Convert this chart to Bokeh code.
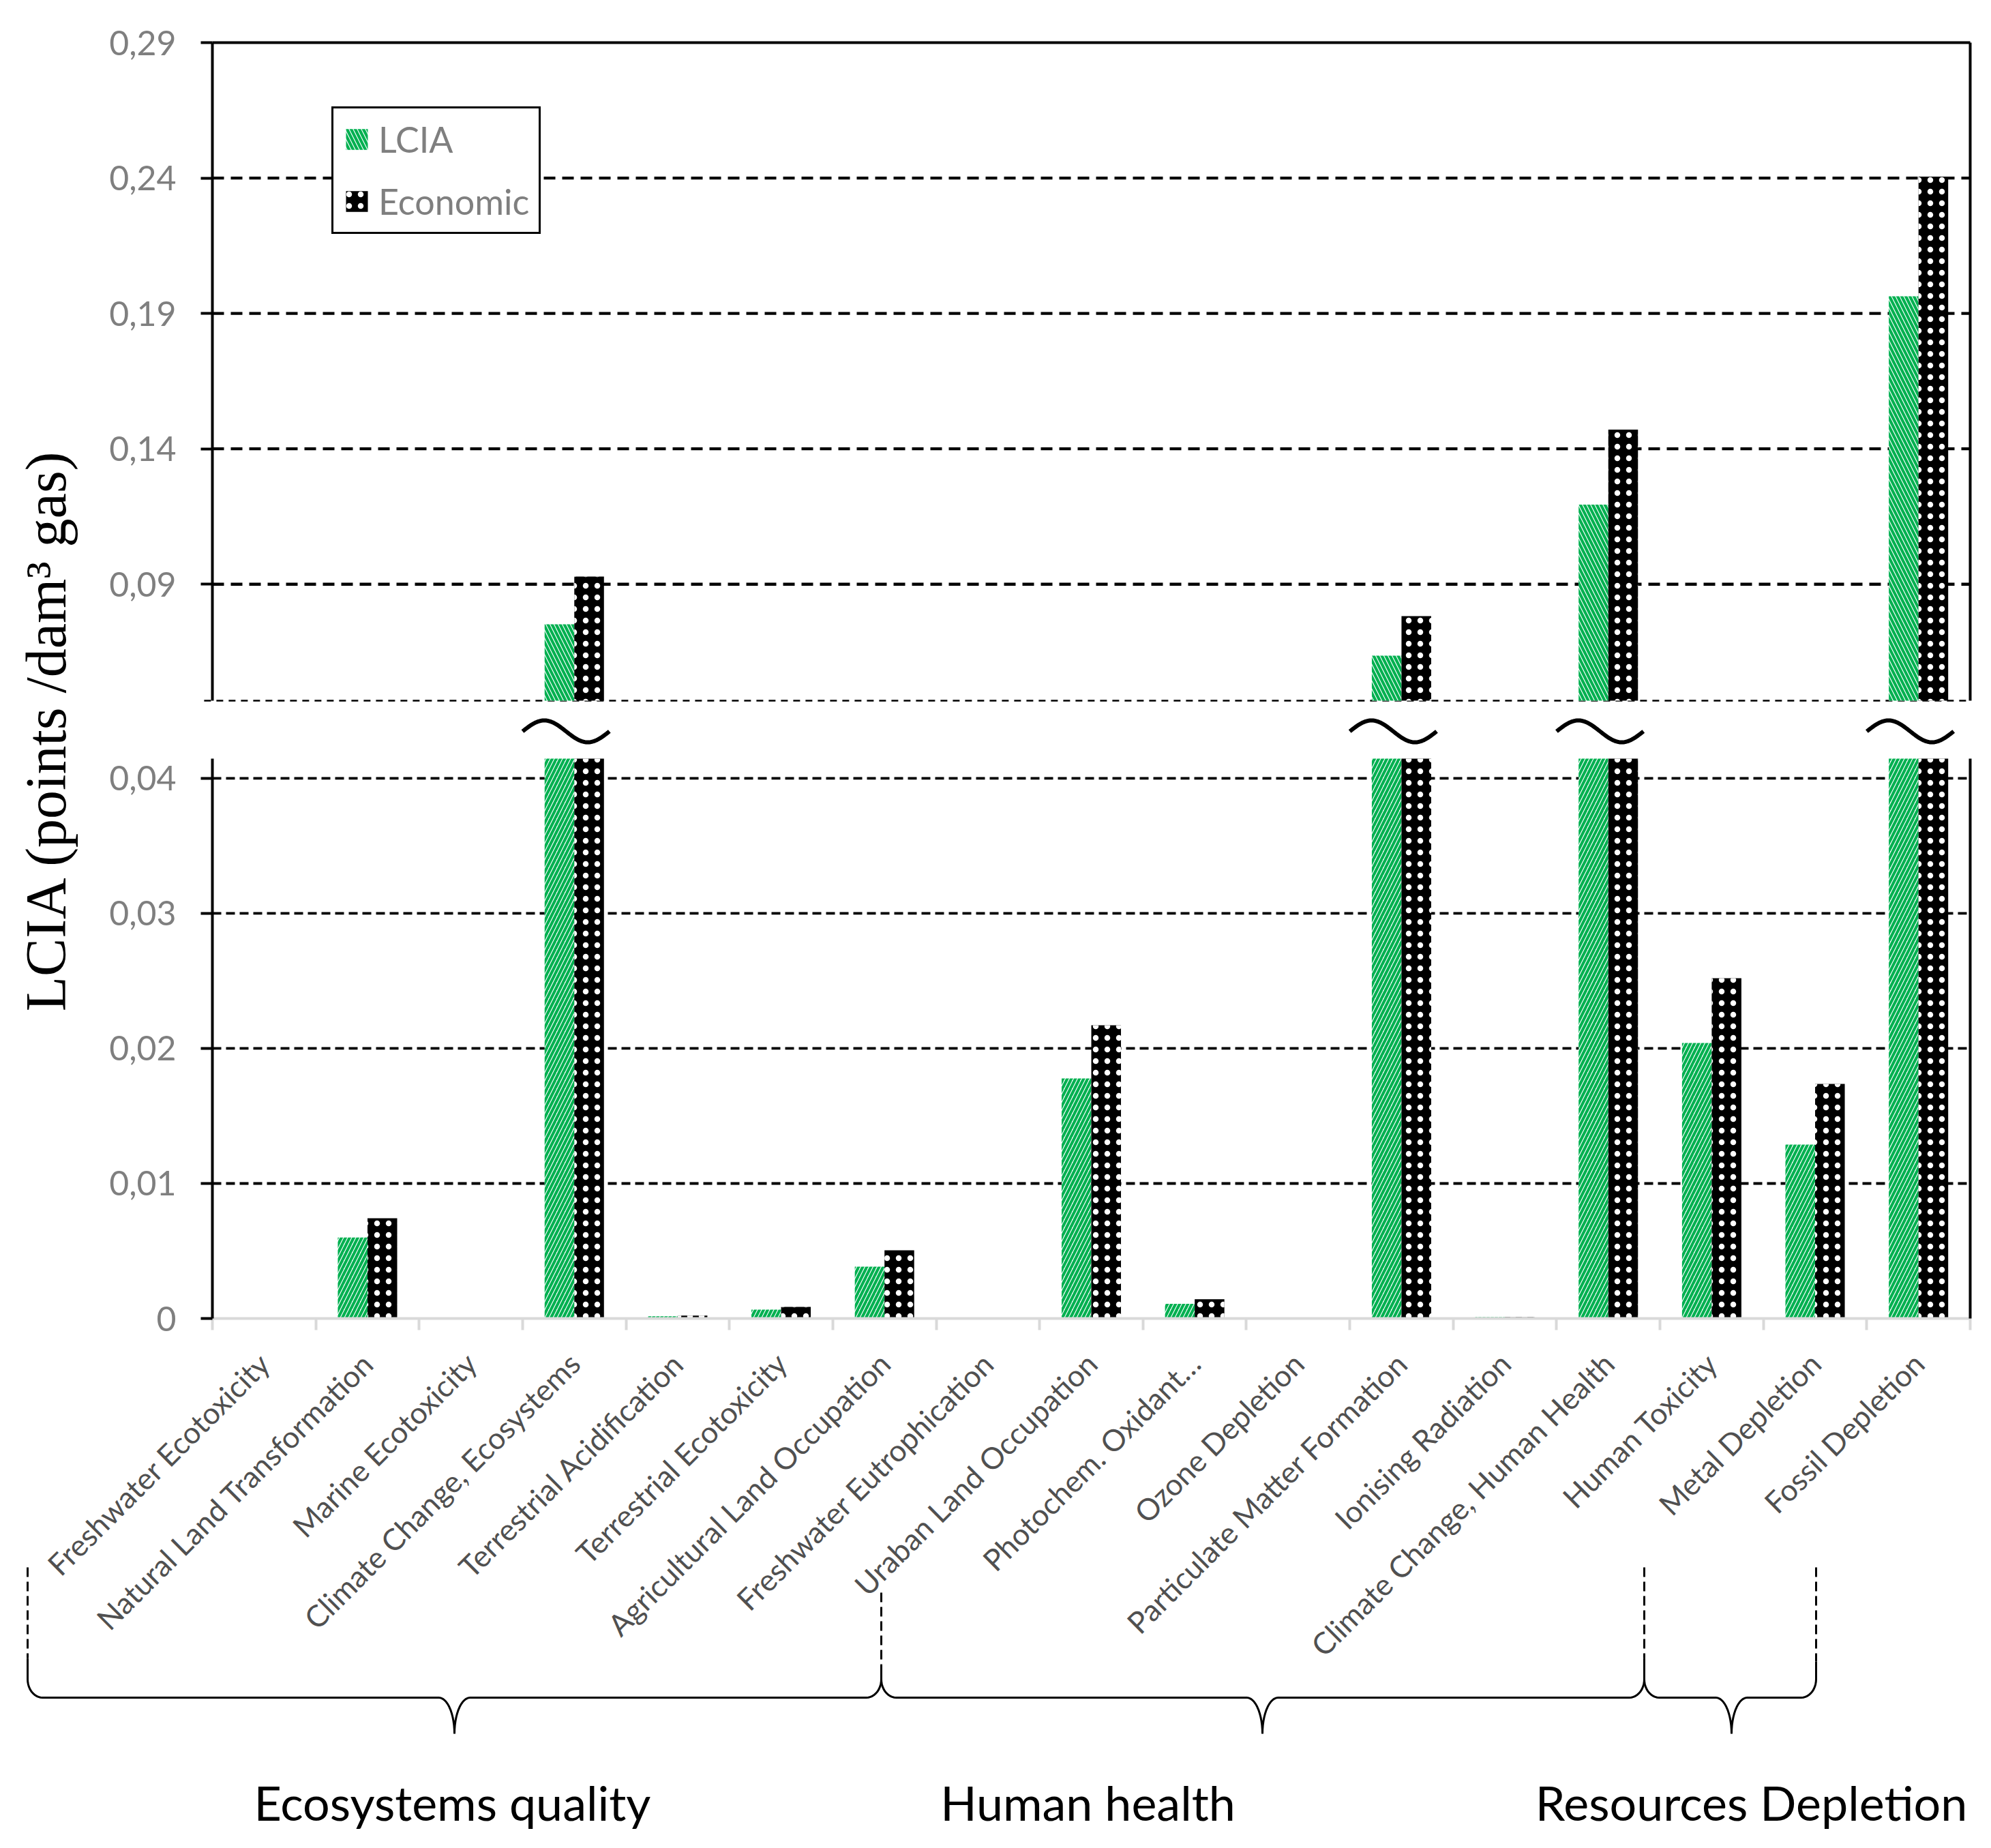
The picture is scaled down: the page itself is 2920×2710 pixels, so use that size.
import math
import numpy as np
from bokeh.plotting import figure
from bokeh.models import (Range1d, LinearAxis, FixedTicker, CustomJSTickFormatter,
                          Legend, LegendItem, ColumnDataSource, CDSView, BooleanFilter)
from bokeh.core.properties import value
from bokeh.transform import dodge
from bokeh.embed import file_html
from bokeh.resources import INLINE

# ---------------- data ----------------
categories = [
    "Freshwater Ecotoxicity", "Natural Land Transformation", "Marine Ecotoxicity",
    "Climate Change, Ecosystems", "Terrestrial Acidification", "Terrestrial Ecotoxicity",
    "Agricultural Land Occupation", "Freshwater Eutrophication", "Uraban Land Occupation",
    "Photochem. Oxidant\u2026", "Ozone Depletion", "Particulate Matter Formation",
    "Ionising Radiation", "Climate Change, Human Health", "Human Toxicity",
    "Metal Depletion", "Fossil Depletion",
]
lcia = [0.0, 0.0060, 0.0, 0.0752, 0.00017, 0.00066, 0.00384, 0.0, 0.01778,
        0.00108, 0.0, 0.0636, 0.0001, 0.1194, 0.0204, 0.01288, 0.1963]
economic = [0.0, 0.00742, 0.0, 0.0928, 0.00022, 0.00086, 0.00505, 0.0, 0.02172,
            0.00143, 0.0, 0.0782, 0.0001, 0.1471, 0.0252, 0.01737, 0.2405]
upper_ticks = [0.09, 0.14, 0.19, 0.24, 0.29]
lower_ticks = [0, 0.01, 0.02, 0.03, 0.04]
series_names = ["LCIA", "Economic"]
group_names = ["Ecosystems quality", "Human health", "Resources Depletion"]
y_title = "LCIA (points /dam\u00b3 gas)"

# axis break
UP_BOTTOM, UP_TOP = 0.047, 0.29
LO_TOP = 0.04146

# ---------------- geometry (canvas pixels) ----------------
W, H = 2904, 2694
X_L, X_R = 311, 2889          # plot area left / right
Y_TOP, Y_ZERO = 62, 1933       # top of upper panel / zero line
LOWER_H, GAP = 821, 85
Y_UPB = Y_ZERO - LOWER_H - GAP  # bottom of upper panel
n = len(categories)

ppx = (X_R - X_L) / n
x_range = Range1d(-X_L / ppx, n + (W - X_R) / ppx)
ppu_l = LOWER_H / LO_TOP
y_range = Range1d(-(H - Y_ZERO) / ppu_l, Y_ZERO / ppu_l)
ppu_u = (Y_UPB - Y_TOP) / (UP_TOP - UP_BOTTOM)
upper_range = Range1d(UP_BOTTOM - (H - Y_UPB) / ppu_u, UP_BOTTOM + Y_UPB / ppu_u)

GREEN = "#00b050"
BAR_W = 0.287
OFF = 0.1435
centers = [i + 0.5 for i in range(n)]

p = figure(width=W, height=H, x_range=x_range, y_range=y_range,
           output_backend="svg", toolbar_location=None, title=None,
           x_axis_location=None, y_axis_location=None,
           min_border_left=0, min_border_right=0, min_border_top=0, min_border_bottom=0,
           background_fill_color="white", border_fill_color="white")
p.outline_line_color = None
for g in p.grid:
    g.visible = False

p.extra_x_ranges = {"img_x": Range1d(0, W)}
p.extra_y_ranges = {"upper": upper_range, "img_y": Range1d(H, 0)}

# ---------------- grid lines & panel lines ----------------
up_grid = upper_ticks[:-1]
p.segment(x0=0, x1=n, y0=up_grid, y1=up_grid, y_range_name="upper",
          line_color="black", line_width=4.3, line_dash="17 10")
lo_grid = lower_ticks[1:]
p.segment(x0=0, x1=n, y0=lo_grid, y1=lo_grid,
          line_color="black", line_width=3.8, line_dash="13 7")
p.segment(x0=0, x1=n, y0=UP_TOP, y1=UP_TOP, y_range_name="upper",
          line_color="black", line_width=4)
p.segment(x0=-0.08, x1=n, y0=UP_BOTTOM, y1=UP_BOTTOM, y_range_name="upper",
          line_color="black", line_width=2.7, line_dash="10 8")

# ---------------- bars ----------------
src = ColumnDataSource(dict(
    x=centers, cat=categories, lcia=lcia, economic=economic,
    lcia_low=np.minimum(lcia, LO_TOP), econ_low=np.minimum(economic, LO_TOP),
))
mask_l = [v > UP_BOTTOM for v in lcia]
mask_e = [v > UP_BOTTOM for v in economic]

green_style = dict(fill_color="white", line_color=None, hatch_color=GREEN,
                   hatch_scale=12, hatch_weight=4.2)
black_style = dict(fill_color="black", line_color=None, hatch_color="white",
                   hatch_pattern="dot", hatch_scale=17, hatch_weight=1)

p.vbar(x=dodge("x", -OFF), top="lcia_low", bottom=0, width=BAR_W,
       source=src, hatch_pattern="right_diagonal_line", **green_style)
p.vbar(x=dodge("x", OFF), top="econ_low", bottom=0, width=BAR_W,
       source=src, **black_style)
r_up_g = p.vbar(x=dodge("x", -OFF), top="lcia", bottom=UP_BOTTOM, width=BAR_W,
                source=src, view=CDSView(filter=BooleanFilter(booleans=mask_l)),
                y_range_name="upper", hatch_pattern="left_diagonal_line", **green_style)
r_up_b = p.vbar(x=dodge("x", OFF), top="economic", bottom=UP_BOTTOM, width=BAR_W,
                source=src, view=CDSView(filter=BooleanFilter(booleans=mask_e)),
                y_range_name="upper", **black_style)

# break marks
broken = [i for i in range(n) if max(lcia[i], economic[i]) > LO_TOP]
t = np.linspace(-1, 1, 61)
p.multi_line(xs=[list(centers[i] - 0.08 + 0.42 * t) for i in broken],
             ys=[list(1072 + 16 * np.sin(np.pi * t)) for i in broken],
             y_range_name="img_y", line_color="black", line_width=6)

# ---------------- axes ----------------
fmt = CustomJSTickFormatter(code="return tick == 0 ? '0' : tick.toFixed(2).replace('.', ',');")
axis_common = dict(axis_line_width=4, axis_line_color="black", major_tick_out=17, major_tick_in=0,
                   major_tick_line_width=4, major_tick_line_color="black",
                   minor_tick_line_color=None, major_label_text_font="Lato",
                   major_label_text_font_size="50px", major_label_text_color="#7f7f7f",
                   major_label_standoff=36, formatter=fmt, fixed_location=0)
p.add_layout(LinearAxis(y_range_name="upper", ticker=FixedTicker(ticks=upper_ticks),
                        bounds=(UP_BOTTOM, UP_TOP), **axis_common), "left")
p.add_layout(LinearAxis(ticker=FixedTicker(ticks=lower_ticks),
                        bounds=(0, LO_TOP), **axis_common), "left")
for rng, bnds in (("upper", (UP_BOTTOM, UP_TOP)), ("default", (0, LO_TOP))):
    p.add_layout(LinearAxis(y_range_name=rng, ticker=FixedTicker(ticks=[]), bounds=bnds,
                            fixed_location=n, axis_line_width=4, axis_line_color="black",
                            major_tick_line_color=None, minor_tick_line_color=None), "right")

# category labels axis
xa = LinearAxis(ticker=FixedTicker(ticks=centers), fixed_location=0, bounds=(0, n),
                major_label_overrides={c: name for c, name in zip(centers, categories)},
                major_label_orientation=math.pi / 4, major_label_text_font="Lato",
                major_label_text_font_size="44px", major_label_text_color="#505050",
                major_tick_line_color=None, major_tick_out=0, major_tick_in=0,
                minor_tick_line_color=None, axis_line_color="#d9d9d9", axis_line_width=4,
                major_label_standoff=58)
p.add_layout(xa, "below")
# category boundary ticks
p.add_layout(LinearAxis(ticker=FixedTicker(ticks=list(range(n + 1))),
                        formatter=CustomJSTickFormatter(code="return '';"), fixed_location=0,
                        bounds=(0, n), axis_line_color=None, major_tick_out=17, major_tick_in=0,
                        major_tick_line_color="#d9d9d9", major_tick_line_width=4,
                        minor_tick_line_color=None), "below")

# ---------------- legend ----------------
legend = Legend(items=[LegendItem(label=series_names[0], renderers=[r_up_g]),
                       LegendItem(label=series_names[1], renderers=[r_up_b])],
                location=(486, H - 343), border_line_color="black", border_line_width=3,
                border_line_alpha=1.0,
                background_fill_color="white", background_fill_alpha=1.0,
                label_text_font="Lato", label_text_font_size="52px", label_text_color="#7f7f7f",
                glyph_width=40, glyph_height=38, label_height=30, label_standoff=12,
                padding=14, spacing=29, margin=0)
p.add_layout(legend)

# ---------------- y title ----------------
p.text(x=[67], y=[1070], text=[y_title], x_range_name="img_x", y_range_name="img_y",
       angle=math.pi / 2, text_align="center", text_baseline="alphabetic",
       text_font=value("Liberation Serif"), text_font_size=value("84px"), text_color="black")

# ---------------- group braces ----------------
def brace(x0, x1, xm, top0, top1, yh=2489, ytip=2542, rc=22, rb=27, cm=23):
    pts = [(x0, top0)]
    cx, cy = x0 + rc, yh - rb
    for th in np.linspace(math.pi, math.pi / 2, 12):
        pts.append((cx + rc * math.cos(th), cy + rb * math.sin(th)))
    left_cusp = []
    for ph in np.linspace(0, math.pi / 2, 14):
        left_cusp.append((xm - cm + cm * math.sin(ph), ytip - (ytip - yh) * math.cos(ph)))
    pts += left_cusp
    pts += [(2 * xm - x, y) for (x, y) in reversed(left_cusp)][1:]
    cx, cy = x1 - rc, yh - rb
    for th in np.linspace(math.pi / 2, 0, 12):
        pts.append((cx + rc * math.cos(th), cy + rb * math.sin(th)))
    pts.append((x1, top1))
    return [q[0] for q in pts], [q[1] for q in pts]

brace_specs = [(40, 1292, 666, 2431, 2441), (1292, 2411, 1851, 2441, 2431),
               (2411, 2663, 2539, 2431, 2436)]
bxs, bys = [], []
for spec in brace_specs:
    bx, by = brace(*spec)
    bxs.append(bx)
    bys.append(by)
p.multi_line(xs=bxs, ys=bys, x_range_name="img_x", y_range_name="img_y",
             line_color="black", line_width=3)

dash_x = [40, 1292, 2411, 2663]
dash_y0 = [2298, 2335, 2298, 2298]
dash_y1 = [2431, 2441, 2431, 2436]
p.segment(x0=dash_x, x1=dash_x, y0=dash_y0, y1=dash_y1, x_range_name="img_x",
          y_range_name="img_y", line_color="black", line_width=3, line_dash="14 7")

p.text(x=[663, 1595, 2568], y=[2642, 2642, 2642], text=group_names,
       x_range_name="img_x", y_range_name="img_y", text_align="center",
       text_baseline="alphabetic", text_font=value("Lato"), text_font_size=value("70px"),
       text_color="black")

open("out.html", "w").write(file_html(p, INLINE))
